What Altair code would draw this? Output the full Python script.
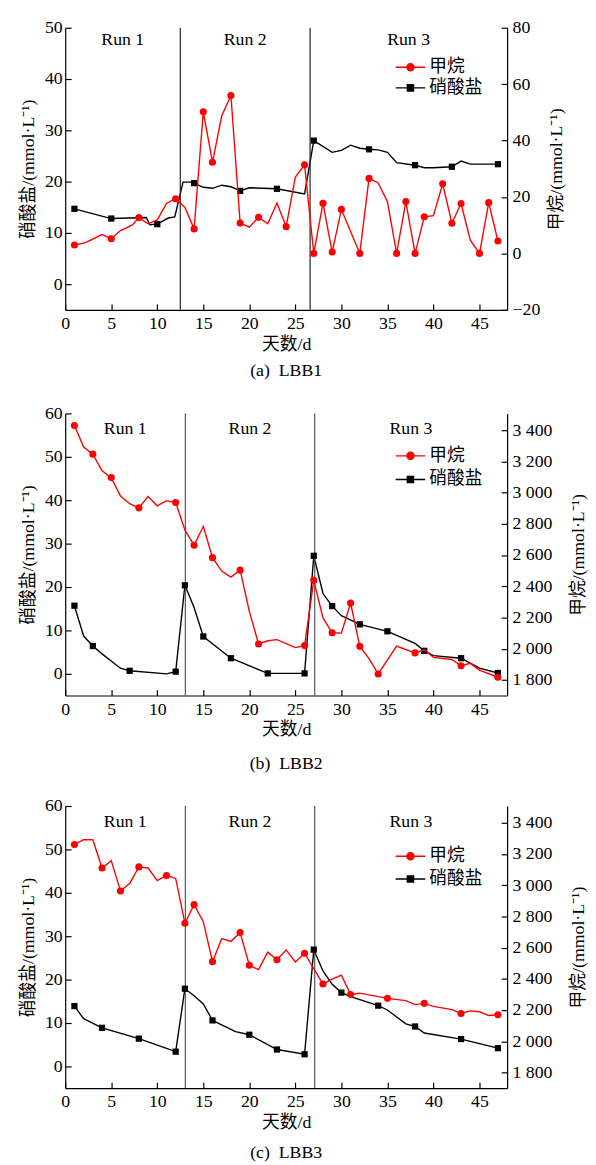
import altair as alt
import pandas as pd

FONT = "Liberation Serif, Noto Sans CJK SC, serif"
RED = "#ff0000"
BLACK = "#000000"

series_names = ["甲烷", "硝酸盐"]
run_labels = ["Run 1", "Run 2", "Run 3"]
x_ticks = [0, 5, 10, 15, 20, 25, 30, 35, 40, 45]
X_MAX = 48
W, H = 448, 286

# ---------------- Panel (a) LBB1 ----------------
a_ch4_day = [1, 2.2, 4, 5, 6, 7.3, 8, 9, 10, 11, 12, 13, 14, 15, 16, 17, 18, 19, 20, 21, 22, 23, 24, 25, 26,
             27, 28, 29, 30, 32, 33, 34, 35, 36, 37, 38, 39, 40, 41, 42, 43, 44, 45, 46, 47]
a_ch4_val = [3.0, 3.8, 6.7, 5.2, 8.1, 10.1, 12.7, 10.5, 11.9, 17.7, 19.4, 16.3, 8.7, 50.2, 32.3, 48.8, 56.0, 10.8,
             9.3, 12.8, 10.5, 17.9, 9.5, 27.1, 31.4, 0.0, 17.8, 0.5, 15.6, 0.0, 26.6, 25.0, 18.3, 0.0, 18.4, 0.0,
             13.0, 13.4, 24.7, 10.7, 17.7, 4.7, 0.0, 18.0, 4.4]
a_ch4_mark = [1, 0, 0, 1, 0, 0, 1, 0, 0, 0, 1, 0, 1, 1, 1, 0, 1, 1, 0, 1, 0, 0, 1, 0, 1,
              1, 1, 1, 1, 1, 1, 0, 0, 1, 1, 1, 1, 0, 1, 1, 1, 0, 1, 1, 1]
a_no3_day = [1, 5, 8.8, 9.2, 10, 11.2, 11.9, 12.8, 13.6, 14, 15, 16, 17, 18, 19, 20, 23, 26, 27, 29, 30, 31, 32,
             33, 34, 35, 36, 38, 39, 40, 42, 43, 44, 47]
a_no3_val = [14.7, 12.8, 13.0, 11.6, 11.7, 12.9, 13.1, 19.9, 19.9, 19.7, 18.9, 18.7, 19.3, 19.0, 18.2, 18.8, 18.6,
             17.6, 28.0, 25.7, 26.1, 27.1, 26.5, 26.3, 26.2, 25.7, 23.7, 23.2, 22.7, 22.7, 22.9, 24.0, 23.4, 23.4]
a_no3_mark = [1, 1, 0, 0, 1, 0, 0, 0, 0, 1, 0, 0, 0, 0, 1, 0, 1, 0, 1, 0, 0, 0, 0,
              1, 0, 0, 0, 1, 0, 0, 1, 0, 0, 1]
a_bounds = [12.5, 26.6]

# ---------------- Panel (b) LBB2 ----------------
b_ch4_day = [1, 2, 3, 4, 5, 6, 7, 8, 9, 10, 11, 12, 13, 14, 15, 16, 17, 18, 19, 20, 21, 22, 23, 25, 26,
             27, 28, 29, 30, 31, 32, 33, 34, 36, 38, 39, 40, 42, 43, 44, 45, 47]
b_ch4_val = [3430, 3292, 3246, 3140, 3096, 2978, 2929, 2902, 2974, 2915, 2948, 2936, 2760, 2663, 2784, 2583, 2497,
             2459, 2503, 2239, 2030, 2051, 2058, 2007, 2020, 2438, 2197, 2102, 2100, 2292, 2015, 1937, 1838, 2017,
             1973, 1994, 1944, 1931, 1891, 1906, 1863, 1817]
b_ch4_mark = [1, 0, 1, 0, 1, 0, 0, 1, 0, 0, 0, 1, 0, 1, 0, 1, 0, 0, 1, 0, 1, 0, 0, 0, 1,
              1, 0, 1, 0, 1, 1, 0, 1, 0, 1, 0, 0, 0, 1, 0, 0, 1]
b_no3_day = [1, 2, 3, 4, 6, 7, 11, 12, 13, 14, 15, 18, 22, 26, 27, 28, 29, 30, 32, 35, 38, 39, 40, 43, 45, 47]
b_no3_val = [15.7, 8.7, 6.4, 4.6, 1.3, 0.7, 0.0, 0.5, 20.4, 15.3, 8.6, 3.6, 0.1, 0.1, 27.2, 18.5, 15.6, 13.4, 11.4,
             9.8, 7.0, 5.3, 4.2, 3.6, 1.3, 0.2]
b_no3_mark = [1, 0, 1, 0, 0, 1, 0, 1, 1, 0, 1, 1, 1, 1, 1, 0, 1, 0, 1, 1, 0, 1, 0, 1, 0, 1]
b_bounds = [13.05, 27.1]

# ---------------- Panel (c) LBB3 ----------------
c_ch4_day = [1, 2, 3, 4, 5, 6, 7, 8, 9, 10, 11, 12, 13, 14, 15, 16, 17, 18, 19, 20, 21, 22, 23, 24, 25, 26,
             28, 29, 30, 31, 32, 35, 37, 38, 39, 40, 42, 43, 44, 45, 46, 47]
c_ch4_val = [3260, 3291, 3291, 3110, 3157, 2963, 3010, 3117, 3110, 3029, 3062, 3043, 2756, 2875, 2766, 2510, 2657,
             2640, 2697, 2487, 2459, 2571, 2522, 2585, 2508, 2564, 2367, 2398, 2424, 2300, 2308, 2275, 2260, 2235,
             2243, 2224, 2203, 2178, 2195, 2189, 2165, 2170]
c_ch4_mark = [1, 0, 0, 1, 0, 1, 0, 1, 0, 0, 1, 0, 1, 1, 0, 1, 0, 0, 1, 1, 0, 0, 1, 0, 0, 1,
              1, 0, 0, 1, 0, 1, 0, 0, 1, 0, 0, 1, 0, 0, 0, 1]
c_no3_day = [1, 2, 4, 8, 12, 13, 14, 15, 16, 18.5, 20, 23, 26, 27, 28, 29, 30, 31, 34, 35, 37, 38, 39, 43, 47]
c_no3_val = [13.9, 11.0, 8.9, 6.4, 3.4, 17.9, 16.3, 14.4, 10.6, 8.0, 7.3, 3.9, 2.8, 26.9, 22.0, 18.9, 17.0, 16.1,
             14.0, 13.0, 9.8, 9.2, 7.7, 6.3, 4.2]
c_no3_mark = [1, 0, 1, 1, 1, 1, 0, 0, 1, 0, 1, 1, 1, 1, 0, 0, 1, 0, 1, 0, 0, 1, 0, 1, 1]
c_bounds = [13.05, 27.1]

CIRCLE_LEG = "M-1,0H1M0.24,0A0.24,0.24,0,1,1,-0.24,0A0.24,0.24,0,1,1,0.24,0Z"
SQUARE_LEG = "M-1,0H1M-0.21,-0.21H0.21V0.21H-0.21Z"


def axis_style():
    return dict(labelFont=FONT, labelFontSize=18, titleFont=FONT, titleFontSize=18,
                titleFontWeight="normal", labelColor="black", titleColor="black",
                domainColor="black", tickColor="black", grid=False,
                domainWidth=1.2, tickWidth=1.2)


def tick_axis(values, orient, offset):
    # tick-only axis placed on the opposite edge so the ticks point into the plot
    return alt.Axis(values=values, orient=orient, offset=offset, labels=False, domain=False,
                    title=None, ticks=True, tickSize=6, tickColor="black", tickWidth=1.2, grid=False)


def panel(ch4_day, ch4_val, ch4_mark, no3_day, no3_val, no3_mark, bounds,
          left_dom, left_ticks, right_dom, right_ticks, right_expr, right_tp,
          caption, cap_offset, run_y, leg_x, leg_y, leg_rowpad, rule_color):
    ch4 = pd.DataFrame({"day": ch4_day, "val": ch4_val, "m": ch4_mark})
    no3 = pd.DataFrame({"day": no3_day, "val": no3_val, "m": no3_mark})
    edges = [0] + bounds + [X_MAX]
    runs = pd.DataFrame({"label": run_labels,
                         "mid": [(edges[i] + edges[i + 1]) / 2 for i in range(3)]})
    bnd = pd.DataFrame({"b": bounds})
    leg_df = pd.DataFrame({"series": series_names, "day": [no3_day[0], no3_day[0]]})

    xs = alt.Scale(domain=[0, X_MAX], nice=False, zero=False)
    x_main = alt.X("day:Q", scale=xs,
                   axis=alt.Axis(values=x_ticks, title="天数/d", labelFlush=False, ticks=False,
                                 labelPadding=5, titlePadding=3, orient="bottom", **axis_style()))
    x_plain = alt.X("day:Q", scale=xs, axis=None)
    x_tick = alt.X("day:Q", scale=xs, axis=tick_axis(x_ticks, "top", -H))

    ly_scale = alt.Scale(domain=left_dom, nice=False, zero=False)
    ly_main = alt.Y("val:Q", scale=ly_scale,
                    axis=alt.Axis(values=left_ticks, orient="left", title="硝酸盐/(mmol·L⁻¹)", ticks=False,
                                  labelPadding=3, titlePadding=7, **axis_style()))
    ly_plain = alt.Y("val:Q", scale=ly_scale, axis=None)
    ly_tick = alt.Y("val:Q", scale=ly_scale, axis=tick_axis(left_ticks, "right", -W))

    r_axis = dict(values=right_ticks, orient="right", title="甲烷/(mmol·L⁻¹)", titleAngle=270,
                  titleBaseline="top", ticks=False,
                  labelPadding=5, titlePadding=right_tp, **axis_style())
    if right_expr:
        r_axis["labelExpr"] = right_expr
    ry_scale = alt.Scale(domain=right_dom, nice=False, zero=False)
    ry_main = alt.Y("val:Q", scale=ry_scale, axis=alt.Axis(**r_axis))
    ry_plain = alt.Y("val:Q", scale=ry_scale, axis=None)
    ry_tick = alt.Y("val:Q", scale=ry_scale, axis=tick_axis(right_ticks, "left", -W))

    leg = alt.Legend(orient="none", legendX=leg_x, legendY=leg_y, title=None, direction="vertical",
                     labelFont=FONT, labelFontSize=18, labelColor="black", symbolSize=900,
                     symbolStrokeWidth=1.4, symbolOpacity=1, padding=0, rowPadding=leg_rowpad,
                     clipHeight=18, labelOffset=3)

    rules = alt.Chart(bnd).mark_rule(color=rule_color, strokeWidth=1.2).encode(
        x=alt.X("b:Q", scale=xs, axis=None))
    texts = alt.Chart(runs).mark_text(font=FONT, fontSize=18, color="black", baseline="middle").encode(
        x=alt.X("mid:Q", scale=xs, axis=None), y=alt.value(run_y), text="label:N")
    no3_line = alt.Chart(no3).mark_line(color=BLACK, strokeWidth=1.4).encode(x=x_main, y=ly_main)
    no3_ticks = alt.Chart(no3).mark_point(opacity=0).encode(x=x_tick, y=ly_tick)
    no3_pts = alt.Chart(no3).transform_filter("datum.m == 1").mark_square(
        color=BLACK, size=40, opacity=1).encode(x=x_plain, y=ly_plain)
    helper = alt.Chart(leg_df).mark_point(filled=True, opacity=0).encode(
        x=x_plain, y=alt.value(0),
        shape=alt.Shape("series:N", scale=alt.Scale(domain=series_names, range=[CIRCLE_LEG, SQUARE_LEG]), legend=leg),
        fill=alt.Fill("series:N", scale=alt.Scale(domain=series_names, range=[RED, BLACK]), legend=leg),
        stroke=alt.Stroke("series:N", scale=alt.Scale(domain=series_names, range=[RED, BLACK]), legend=leg),
    )
    left = alt.layer(no3_line, no3_ticks, rules, texts, no3_pts, helper)

    ch4_line = alt.Chart(ch4).mark_line(color=RED, strokeWidth=1.4).encode(x=x_plain, y=ry_main)
    ch4_ticks = alt.Chart(ch4).mark_point(opacity=0).encode(x=x_plain, y=ry_tick)
    ch4_pts = alt.Chart(ch4).transform_filter("datum.m == 1").mark_circle(
        color=RED, size=52, opacity=1).encode(x=x_plain, y=ry_plain)
    right = alt.layer(ch4_line, ch4_ticks, ch4_pts)

    return alt.layer(left, right).resolve_scale(y="independent").properties(
        width=W, height=H,
        title=alt.TitleParams(caption, orient="bottom", anchor="middle", font=FONT, fontSize=18,
                              fontWeight="normal", color="black", offset=cap_offset))


thousand = "replace(format(datum.value, ','), ',', ' ')"

pa = panel(a_ch4_day, a_ch4_val, a_ch4_mark, a_no3_day, a_no3_val, a_no3_mark, a_bounds,
           [-5, 50], [0, 10, 20, 30, 40, 50], [-20, 80], [-20, 0, 20, 40, 60, 80], None, 8,
           "(a)\u00a0 LBB1", 9, 13, 334, 31, 3, "#222222")
pb = panel(b_ch4_day, b_ch4_val, b_ch4_mark, b_no3_day, b_no3_val, b_no3_mark, b_bounds,
           [-5, 60], [0, 10, 20, 30, 40, 50, 60], [1700, 3507],
           [1800, 2000, 2200, 2400, 2600, 2800, 3000, 3200, 3400], thousand, 18,
           "(b)\u00a0 LBB2", 16, 16, 334, 34, 6, "#555555")
pc = panel(c_ch4_day, c_ch4_val, c_ch4_mark, c_no3_day, c_no3_val, c_no3_mark, c_bounds,
           [-5, 60], [0, 10, 20, 30, 40, 50, 60], [1700, 3507],
           [1800, 2000, 2200, 2400, 2600, 2800, 3000, 3200, 3400], thousand, 18,
           "(c)\u00a0 LBB3", 13, 16, 334, 42, 5, "#555555")

chart = alt.vconcat(pa, pb, pc, spacing=25).resolve_scale(
    x="independent", y="independent", shape="independent", fill="independent", stroke="independent"
).properties(
    padding={"left": 12, "top": 3, "right": 0, "bottom": 0}, background="white"
).configure_view(stroke=None)

chart.save("out.html", embed_options={"renderer": "svg", "actions": False})
